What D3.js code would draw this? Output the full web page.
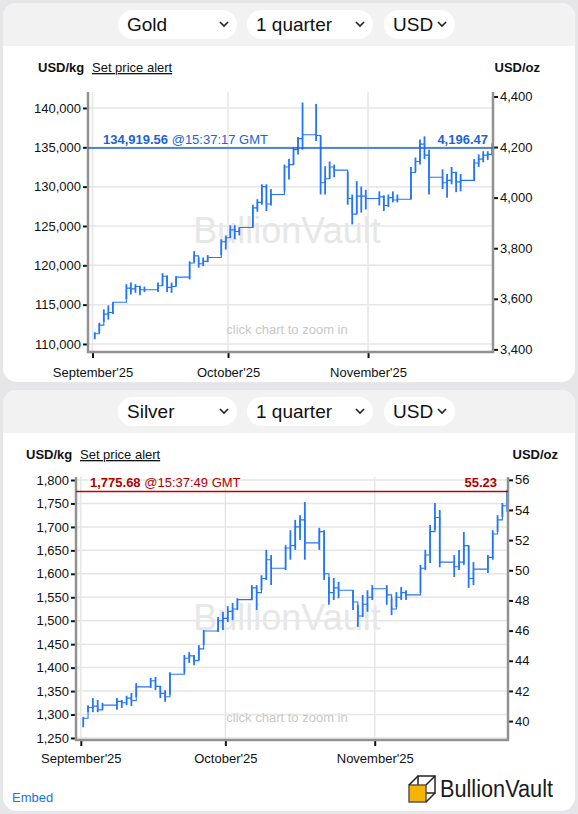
<!DOCTYPE html>
<html>
<head>
<meta charset="utf-8">
<script src="https://cdn.jsdelivr.net/npm/d3@7"></script>
<style>
  body { margin: 0; background: #e6e6e9; font-family: "Liberation Sans", Arial, sans-serif; }
  svg { display: block; }
</style>
</head>
<body>
<svg id="chart" width="578" height="814"></svg>
<script>
// trading days shown on both charts
const tradingDays = [
  "2025-09-01","2025-09-02","2025-09-03","2025-09-04","2025-09-05",
  "2025-09-08","2025-09-09","2025-09-10","2025-09-11","2025-09-12",
  "2025-09-15","2025-09-16","2025-09-17","2025-09-18","2025-09-19",
  "2025-09-22","2025-09-23","2025-09-24","2025-09-25","2025-09-26",
  "2025-09-29","2025-09-30","2025-10-01","2025-10-02","2025-10-03",
  "2025-10-06","2025-10-07","2025-10-08","2025-10-09","2025-10-10",
  "2025-10-13","2025-10-14","2025-10-15","2025-10-16","2025-10-17",
  "2025-10-20","2025-10-21","2025-10-22","2025-10-23","2025-10-24",
  "2025-10-27","2025-10-28","2025-10-29","2025-10-30","2025-10-31",
  "2025-11-03","2025-11-04","2025-11-05","2025-11-06","2025-11-07",
  "2025-11-10","2025-11-11","2025-11-12","2025-11-13","2025-11-14",
  "2025-11-17","2025-11-18","2025-11-19","2025-11-20","2025-11-21",
  "2025-11-24","2025-11-25","2025-11-26","2025-11-27","2025-11-28"
];

// Gold, USD/kg
const goldLow = [
  110600,111400,112800,113100,113800, 115700,116300,116500,116200,116600,
  116600,117400,116600,116500,117400, 118200,120400,119700,119900,120400,
  121300,122000,123500,123300,123800, 124800,126800,127700,126900,127600,
  129400,130900,132800,134100,134700, 135800,129000,129000,131000,131200,
  127700,125200,126500,126700,127100, 127600,126900,127400,128000,128000,
  128400,131900,132800,133500,129000, 129700,128600,130300,129300,129400,
  130700,132500,133100,133400,134000
];
const goldHigh = [
  111500,112700,114400,114900,115300, 117600,117800,117600,117400,117300,
  117800,119000,118700,117800,118600, 120500,121800,121000,121000,121300,
  123300,123800,125100,125100,124800, 127700,128400,130300,130300,129700,
  132800,133500,135000,136300,140700, 140500,136500,132600,133200,132800,
  131900,129000,130700,130000,129600, 129400,128900,129000,129400,129000,
  132500,133700,136000,136400,134700, 132200,131600,132500,131900,131600,
  133500,134100,134500,134500,135500
];
const goldClose = [
  111300,112400,113800,114000,115300, 117100,117000,117300,116900,116900,
  117400,118600,117200,117300,118500, 120300,121200,120200,120500,121000,
  123000,123500,124500,124300,124800, 127300,128000,130000,127800,129000,
  132500,132800,134700,136100,136600, 136500,130500,131000,132500,132100,
  128500,126500,128800,128800,128500, 128700,127600,128600,128300,128400,
  131800,133200,135400,134000,131200, 130500,130800,131800,130600,130800,
  133000,133500,134000,134100,134919.56
];

// Silver, USD/kg
const silverLow = [
  1273,1305,1305,1305,1310, 1310,1314,1320,1318,1337,
  1357,1352,1335,1327,1342, 1388,1410,1405,1416,1448,
  1476,1480,1497,1501,1523, 1544,1523,1565,1587,1576,
  1608,1630,1651,1672,1630, 1651,1587,1534,1544,1548,
  1523,1487,1508,1519,1544, 1534,1512,1529,1544,1544,
  1559,1608,1623,1693,1614, 1593,1608,1619,1570,1576,
  1602,1630,1689,1721,1732
];
const silverHigh = [
  1295,1320,1335,1331,1325, 1335,1331,1340,1346,1367,
  1378,1380,1361,1352,1390, 1427,1433,1427,1448,1480,
  1508,1519,1531,1538,1548, 1576,1576,1597,1651,1640,
  1661,1693,1715,1725,1753, 1698,1693,1593,1591,1583,
  1565,1534,1555,1565,1576, 1576,1550,1561,1572,1565,
  1619,1651,1704,1751,1736, 1640,1651,1689,1661,1625,
  1640,1693,1725,1751,1779
];
const silverClose = [
  1292,1315,1318,1310,1320, 1328,1325,1335,1330,1359,
  1372,1360,1345,1338,1386, 1420,1425,1415,1440,1478,
  1500,1505,1520,1525,1545, 1570,1560,1590,1630,1612,
  1655,1660,1700,1715,1666, 1690,1600,1560,1570,1565,
  1540,1510,1535,1550,1568, 1555,1525,1550,1560,1555,
  1612,1640,1690,1720,1625, 1615,1625,1660,1590,1610,
  1635,1685,1715,1745,1775.68
];

// axis ticks
const goldKgTicks = [110000,115000,120000,125000,130000,135000,140000];
const goldOzTicks = [3400,3600,3800,4000,4200,4400];
const silverKgTicks = [1250,1300,1350,1400,1450,1500,1550,1600,1650,1700,1750,1800];
const silverOzTicks = [40,42,44,46,48,50,52,54,56];

const selectors = ["1 quarter", "USD"];
const OZ_PER_KG = 32.1507;

const svg = d3.select("#chart");
const parseDay = d3.utcParse("%Y-%m-%d");
const xStart = new Date(Date.UTC(2025, 7, 31));
const xEnd = new Date(Date.UTC(2025, 10, 28, 16));

function drawPanel(p) {
  const g = svg.append("g");

  // card + grey header
  const clipId = "card-" + p.metal;
  svg.append("clipPath").attr("id", clipId)
    .append("rect")
    .attr("x", 3).attr("y", p.cardTop).attr("width", 572).attr("height", p.cardH).attr("rx", 14);
  g.append("rect")
    .attr("x", 3).attr("y", p.cardTop).attr("width", 572).attr("height", p.cardH).attr("rx", 14)
    .attr("fill", "#fff");
  g.append("rect")
    .attr("clip-path", `url(#${clipId})`)
    .attr("x", 3).attr("y", p.cardTop).attr("width", 572).attr("height", 43)
    .attr("fill", "#f2f2f2");

  // drop-downs
  const pills = [
    {label: p.metal, x: 118, w: 119},
    {label: selectors[0], x: 247, w: 126},
    {label: selectors[1], x: 384, w: 71}
  ];
  const pill = g.selectAll(".pill").data(pills).enter().append("g").attr("class", "pill");
  pill.append("rect")
    .attr("x", d => d.x).attr("y", p.cardTop + 7).attr("width", d => d.w).attr("height", 29).attr("rx", 14.5)
    .attr("fill", "#fff");
  pill.append("text")
    .attr("x", d => d.x + 9).attr("y", p.cardTop + 28)
    .style("font-size", "19px").attr("fill", "#111")
    .text(d => d.label);
  pill.append("path")
    .attr("d", d => {
      const cx = d.x + d.w - 13, cy = p.cardTop + 21;
      return `M${cx - 4},${cy - 2}L${cx},${cy + 2}L${cx + 4},${cy - 2}`;
    })
    .attr("fill", "none").attr("stroke", "#222").attr("stroke-width", 1.6);

  // unit labels
  g.append("text").attr("x", p.kgLabelX).attr("y", p.unitY)
    .style("font-size", "13px").style("font-weight", "bold").attr("fill", "#111")
    .text("USD/kg");
  g.append("text").attr("x", p.kgLabelX + 54).attr("y", p.unitY)
    .style("font-size", "13px").style("text-decoration", "underline").attr("fill", "#111")
    .text("Set price alert");
  g.append("text").attr("x", p.ozLabelX).attr("y", p.unitY).attr("text-anchor", "end")
    .style("font-size", "13px").style("font-weight", "bold").attr("fill", "#111")
    .text("USD/oz");

  // scales
  const x = d3.scaleUtc().domain([xStart, xEnd]).range([p.left, p.right]);
  const y = d3.scaleLinear().domain(p.kgDomain).range([p.bottom, p.top]);
  const yOz = d3.scaleLinear().domain(p.kgDomain.map(v => v / OZ_PER_KG)).range([p.bottom, p.top]);
  const months = x.ticks(d3.utcMonth.every(1));

  // grid
  g.append("g").selectAll("line").data(p.kgTicks).enter().append("line")
    .attr("x1", p.left).attr("x2", p.right)
    .attr("y1", d => y(d)).attr("y2", d => y(d))
    .attr("stroke", "#e6e6e6").attr("stroke-width", 1.5);
  g.append("g").selectAll("line").data(months).enter().append("line")
    .attr("x1", d => x(d)).attr("x2", d => x(d))
    .attr("y1", p.top).attr("y2", p.bottom)
    .attr("stroke", "#e6e6e6").attr("stroke-width", 1.5);

  // watermark
  g.append("text")
    .attr("x", 287).attr("y", p.top + (p.bottom - p.top) * 0.58)
    .attr("text-anchor", "middle")
    .style("font-size", "36px").attr("fill", "#e7e7e7")
    .text("BullionVault");
  g.append("text")
    .attr("x", 287).attr("y", p.bottom - 18)
    .attr("text-anchor", "middle")
    .style("font-size", "13px").attr("fill", "#c8c8c8")
    .text("click chart to zoom in");

  // price bars
  const rows = tradingDays.map((d, i) => ({
    date: d3.utcHour.offset(parseDay(d), 12),
    low: p.low[i], high: p.high[i], close: p.close[i]
  }));
  const barColor = "#2476f6";
  g.append("path")
    .datum(rows)
    .attr("d", d3.line().x(d => x(d.date)).y(d => y(d.close)).curve(d3.curveStepAfter))
    .attr("fill", "none").attr("stroke", barColor).attr("stroke-width", 1.1);
  g.append("g").selectAll("line").data(rows).enter().append("line")
    .attr("x1", d => x(d.date)).attr("x2", d => x(d.date))
    .attr("y1", d => y(d.low)).attr("y2", d => y(d.high))
    .attr("stroke", barColor).attr("stroke-width", 1.8);

  // axes
  const styleAxis = sel => {
    sel.select(".domain").remove();
    sel.selectAll(".tick line").attr("stroke", "#111").attr("stroke-width", 2);
    sel.selectAll(".tick text").style("font-size", "13px").attr("fill", "#111")
      .style("font-family", "'Liberation Sans', Arial, sans-serif");
  };
  g.append("g").attr("transform", `translate(${p.left},0)`)
    .call(d3.axisLeft(y).tickValues(p.kgTicks).tickFormat(d3.format(",")).tickSize(5).tickPadding(2))
    .call(styleAxis);
  g.append("g").attr("transform", `translate(${p.right},0)`)
    .call(d3.axisRight(yOz).tickValues(p.ozTicks).tickFormat(d3.format(",")).tickSize(5).tickPadding(2))
    .call(styleAxis);
  g.append("g").attr("transform", `translate(0,${p.bottom})`)
    .call(d3.axisBottom(x).tickValues(months).tickFormat(d3.utcFormat("%B'%y")).tickSize(6).tickPadding(p.xPad))
    .call(styleAxis);

  // grey frame lines
  const frame = d3.path();
  frame.moveTo(p.left, p.top); frame.lineTo(p.left, p.bottom);
  frame.lineTo(p.right, p.bottom); frame.lineTo(p.right, p.top);
  g.append("path").attr("d", frame.toString())
    .attr("fill", "none").attr("stroke", "#929292").attr("stroke-width", 2.5);

  // current price line
  const last = p.close[p.close.length - 1];
  g.append("line")
    .attr("x1", p.left).attr("x2", p.right)
    .attr("y1", y(last)).attr("y2", y(last))
    .attr("stroke", p.lineColor).attr("stroke-width", 1.5);
  const lbl = g.append("text").attr("x", p.left + p.labelInset).attr("y", y(last) - 4)
    .style("font-size", "13px").attr("fill", p.textColor);
  lbl.append("tspan").style("font-weight", "bold").text(d3.format(",.2f")(last));
  lbl.append("tspan").text(" @" + p.time + " GMT");
  g.append("text").attr("x", p.right - p.ozInset).attr("y", y(last) - 4)
    .attr("text-anchor", "end")
    .style("font-size", "13px").style("font-weight", "bold").attr("fill", p.textColor)
    .text(d3.format(",.2f")(last / OZ_PER_KG));
}

drawPanel({
  metal: "Gold", cardTop: 3, cardH: 379,
  left: 88, right: 493, top: 92, bottom: 352,
  kgDomain: [108980, 142030],
  kgTicks: goldKgTicks, ozTicks: goldOzTicks,
  low: goldLow, high: goldHigh, close: goldClose,
  unitY: 72, kgLabelX: 38, ozLabelX: 540, xPad: 10,
  lineColor: "#1c64d4", textColor: "#1c64d4", labelInset: 15, ozInset: 5,
  time: "15:37:17"
});

drawPanel({
  metal: "Silver", cardTop: 390, cardH: 421,
  left: 76, right: 508, top: 477, bottom: 740,
  kgDomain: [1245.7, 1806.4],
  kgTicks: silverKgTicks, ozTicks: silverOzTicks,
  low: silverLow, high: silverHigh, close: silverClose,
  unitY: 459, kgLabelX: 26, ozLabelX: 558, xPad: 8,
  lineColor: "#c40000", textColor: "#b30000", labelInset: 14, ozInset: 11,
  time: "15:37:49"
});

// footer
svg.append("text").attr("x", 12).attr("y", 802)
  .style("font-size", "13px").attr("fill", "#1a73e8")
  .text("Embed");

const logo = svg.append("g");
logo.append("rect").attr("x", 418).attr("y", 776).attr("width", 17).attr("height", 17)
  .attr("fill", "none").attr("stroke", "#222").attr("stroke-width", 1.5);
logo.append("rect").attr("x", 409).attr("y", 785).attr("width", 17).attr("height", 17)
  .attr("fill", "#f6b400").attr("stroke", "#555").attr("stroke-width", 1.5);
logo.append("path")
  .attr("d", "M409,785L418,776M426,785L435,776M426,802L435,793")
  .attr("fill", "none").attr("stroke", "#222").attr("stroke-width", 1.5);
logo.append("text").attr("x", 440).attr("y", 797)
  .attr("textLength", 113).attr("lengthAdjust", "spacingAndGlyphs")
  .style("font-size", "23px").attr("fill", "#1a1a1a")
  .text("BullionVault");
</script>
</body>
</html>
